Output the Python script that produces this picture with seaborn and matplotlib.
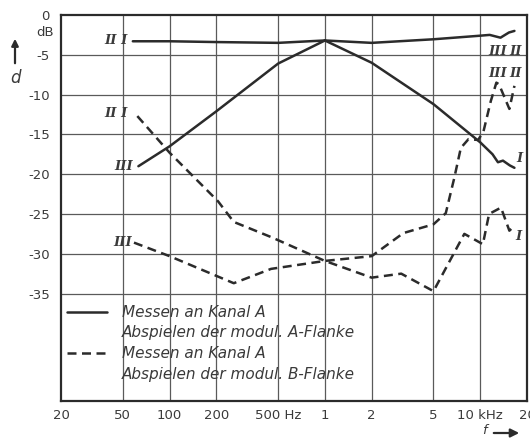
import numpy as np
import pandas as pd
import matplotlib
matplotlib.use("Agg")
import matplotlib.pyplot as plt
from matplotlib.lines import Line2D
import seaborn as sns

# Crosstalk measured on channel A, frequency in Hz, attenuation d in dB
f_solid_21 = [58, 100, 200, 500, 1000, 2000, 5000, 10000, 11500, 13500, 15300, 16600]
d_solid_21 = [-3.3, -3.3, -3.4, -3.5, -3.2, -3.5, -3.05, -2.6, -2.5, -2.85, -2.2, -2.0]

f_solid_3 = [63, 100, 200, 500, 1000]
d_solid_3 = [-19.0, -16.5, -12.1, -6.1, -3.2]

f_solid_1 = [1000, 2000, 5000, 10000, 12000, 13000, 14000, 15500, 16600]
d_solid_1 = [-3.2, -6.0, -11.2, -16.0, -17.5, -18.5, -18.3, -18.9, -19.2]

f_dash_21 = [62, 100, 205, 259, 450, 1000, 2000, 3100, 5000, 7900, 10400, 11400, 13600, 15400, 16600]
d_dash_21 = [-12.7, -17.3, -23.4, -26.0, -27.9, -30.9, -33.0, -32.5, -34.7, -27.5, -28.8, -25.0, -24.2, -27.1, -26.5]

f_dash_3 = [59, 100, 259, 450, 1000, 2000, 3200, 5000, 6000, 6800, 7500, 8400, 9700,
            10500, 11700, 12700, 13200, 15400, 16600]
d_dash_3 = [-28.6, -30.3, -33.7, -31.9, -30.9, -30.3, -27.4, -26.3, -24.9, -20.5, -16.7,
            -15.6, -15.7, -14.6, -10.8, -8.5, -8.7, -11.8, -8.9]

x_ticks = [20, 50, 100, 200, 500, 1000, 2000, 5000, 10000, 20000]
x_labels = ["20", "50", "100", "200", "500 Hz", "1", "2", "5", "10 kHz", "20"]
y_ticks = [0, -5, -10, -15, -20, -25, -30, -35]
y_labels = ["0", "-5", "-10", "-15", "-20", "-25", "-30", "-35"]

legend_labels = ["Messen an Kanal A", "Abspielen der modul. A-Flanke",
                 "Messen an Kanal A", "Abspielen der modul. B-Flanke"]

sns.set_style("white")
plt.rcParams["font.family"] = ["DejaVu Sans"]

ink = "#2b2b2b"
txt = "#3a3a3a"
grid_c = "#5a5a5a"

fig = plt.figure(figsize=(5.30, 4.38), dpi=100)
fig.patch.set_facecolor("white")
ax = fig.add_axes([61 / 530, 37 / 438, 466 / 530, 386 / 438])

curves = [
    (f_solid_21, d_solid_21, "-"),
    (f_solid_3, d_solid_3, "-"),
    (f_solid_1, d_solid_1, "-"),
    (f_dash_21, d_dash_21, "--"),
    (f_dash_3, d_dash_3, "--"),
]
for fx, dy, ls in curves:
    df = pd.DataFrame({"f": fx, "d": dy})
    line_kw = dict(lw=1.8, color=ink, solid_capstyle="round")
    if ls == "--":
        line_kw.update(dashes=(3.6, 2.2))
    sns.lineplot(data=df, x="f", y="d", ax=ax, sort=False, estimator=None, **line_kw)

ax.set_xscale("log")
ax.set_xlim(20, 20000)
ax.set_ylim(-48.5, 0)
ax.set_xticks(x_ticks)
ax.set_xticklabels(x_labels)
ax.xaxis.set_minor_locator(matplotlib.ticker.NullLocator())
ax.set_yticks(y_ticks)
ax.set_yticklabels(y_labels)
ax.tick_params(axis="both", length=0, labelsize=9.5, colors=txt)
ax.tick_params(axis="x", pad=6)
ax.tick_params(axis="y", pad=8)
ax.set_xlabel("")
ax.set_ylabel("")

# Grid: verticals span full height, horizontals stop at -35 dB
for xv in x_ticks[1:-1]:
    ax.axvline(xv, color=grid_c, lw=0.9, zorder=0)
for yv in y_ticks[1:]:
    ax.axhline(yv, color=grid_c, lw=0.9, zorder=0)

for side in ["left", "bottom", "top", "right"]:
    ax.spines[side].set_visible(True)
    ax.spines[side].set_color(ink)
    ax.spines[side].set_linewidth(1.6)

# Curve labels
rk = dict(family="DejaVu Serif", style="italic", fontsize=9.5, color=txt, fontweight="bold")
ax.text(54, -3.2, "II I", ha="right", va="center", **rk)
ax.text(54, -12.4, "II I", ha="right", va="center", **rk)
ax.text(58, -19.0, "III", ha="right", va="center", **rk)
ax.text(57, -28.6, "III", ha="right", va="center", **rk)
ax.text(17800, -18.0, "I", ha="center", va="center", **rk)
ax.text(17600, -27.8, "I", ha="center", va="center", **rk)
ax.text(13000, -4.6, "III", ha="center", va="center", **rk)
ax.text(17000, -4.6, "II", ha="center", va="center", **rk)
ax.text(13000, -7.3, "III", ha="center", va="center", **rk)
ax.text(17000, -7.3, "II", ha="center", va="center", **rk)

# Legend
handles = [Line2D([], [], color=ink, lw=1.8),
           Line2D([], [], color="none", lw=0),
           Line2D([], [], color=ink, lw=1.8, ls=(0, (3.6, 2.2))),
           Line2D([], [], color="none", lw=0)]
leg = ax.legend(handles, legend_labels, loc="upper left",
                bbox_to_anchor=(6 / 466, 96 / 386), frameon=False,
                handlelength=2.6, handletextpad=1.0, labelspacing=0.36,
                borderpad=0, borderaxespad=0,
                prop=dict(style="italic", size=11))
for t in leg.get_texts():
    t.set_color(txt)

# Axis annotations
fig.text(45 / 530, 1 - 32 / 438, "dB", ha="center", va="center", fontsize=9.5, color=txt)
fig.text(15 / 530, 1 - 78 / 438, "d", ha="center", va="center", fontsize=12,
         style="italic", color=txt)
fig.add_artist(matplotlib.patches.FancyArrowPatch(
    (15 / 530, 1 - 66 / 438), (15 / 530, 1 - 36 / 438), transform=fig.transFigure,
    arrowstyle="-|>,head_length=4,head_width=2", color=ink, lw=1.6))
fig.text(484 / 530, 1 - 437 / 438, "f", ha="center", va="bottom", fontsize=9.5,
         style="italic", color=txt)
fig.add_artist(matplotlib.patches.FancyArrowPatch(
    (491 / 530, 1 - 433 / 438), (522 / 530, 1 - 433 / 438), transform=fig.transFigure,
    arrowstyle="-|>,head_length=5,head_width=2.5", color=ink, lw=1.6))

fig.savefig("out.png", dpi=100, facecolor="white")
